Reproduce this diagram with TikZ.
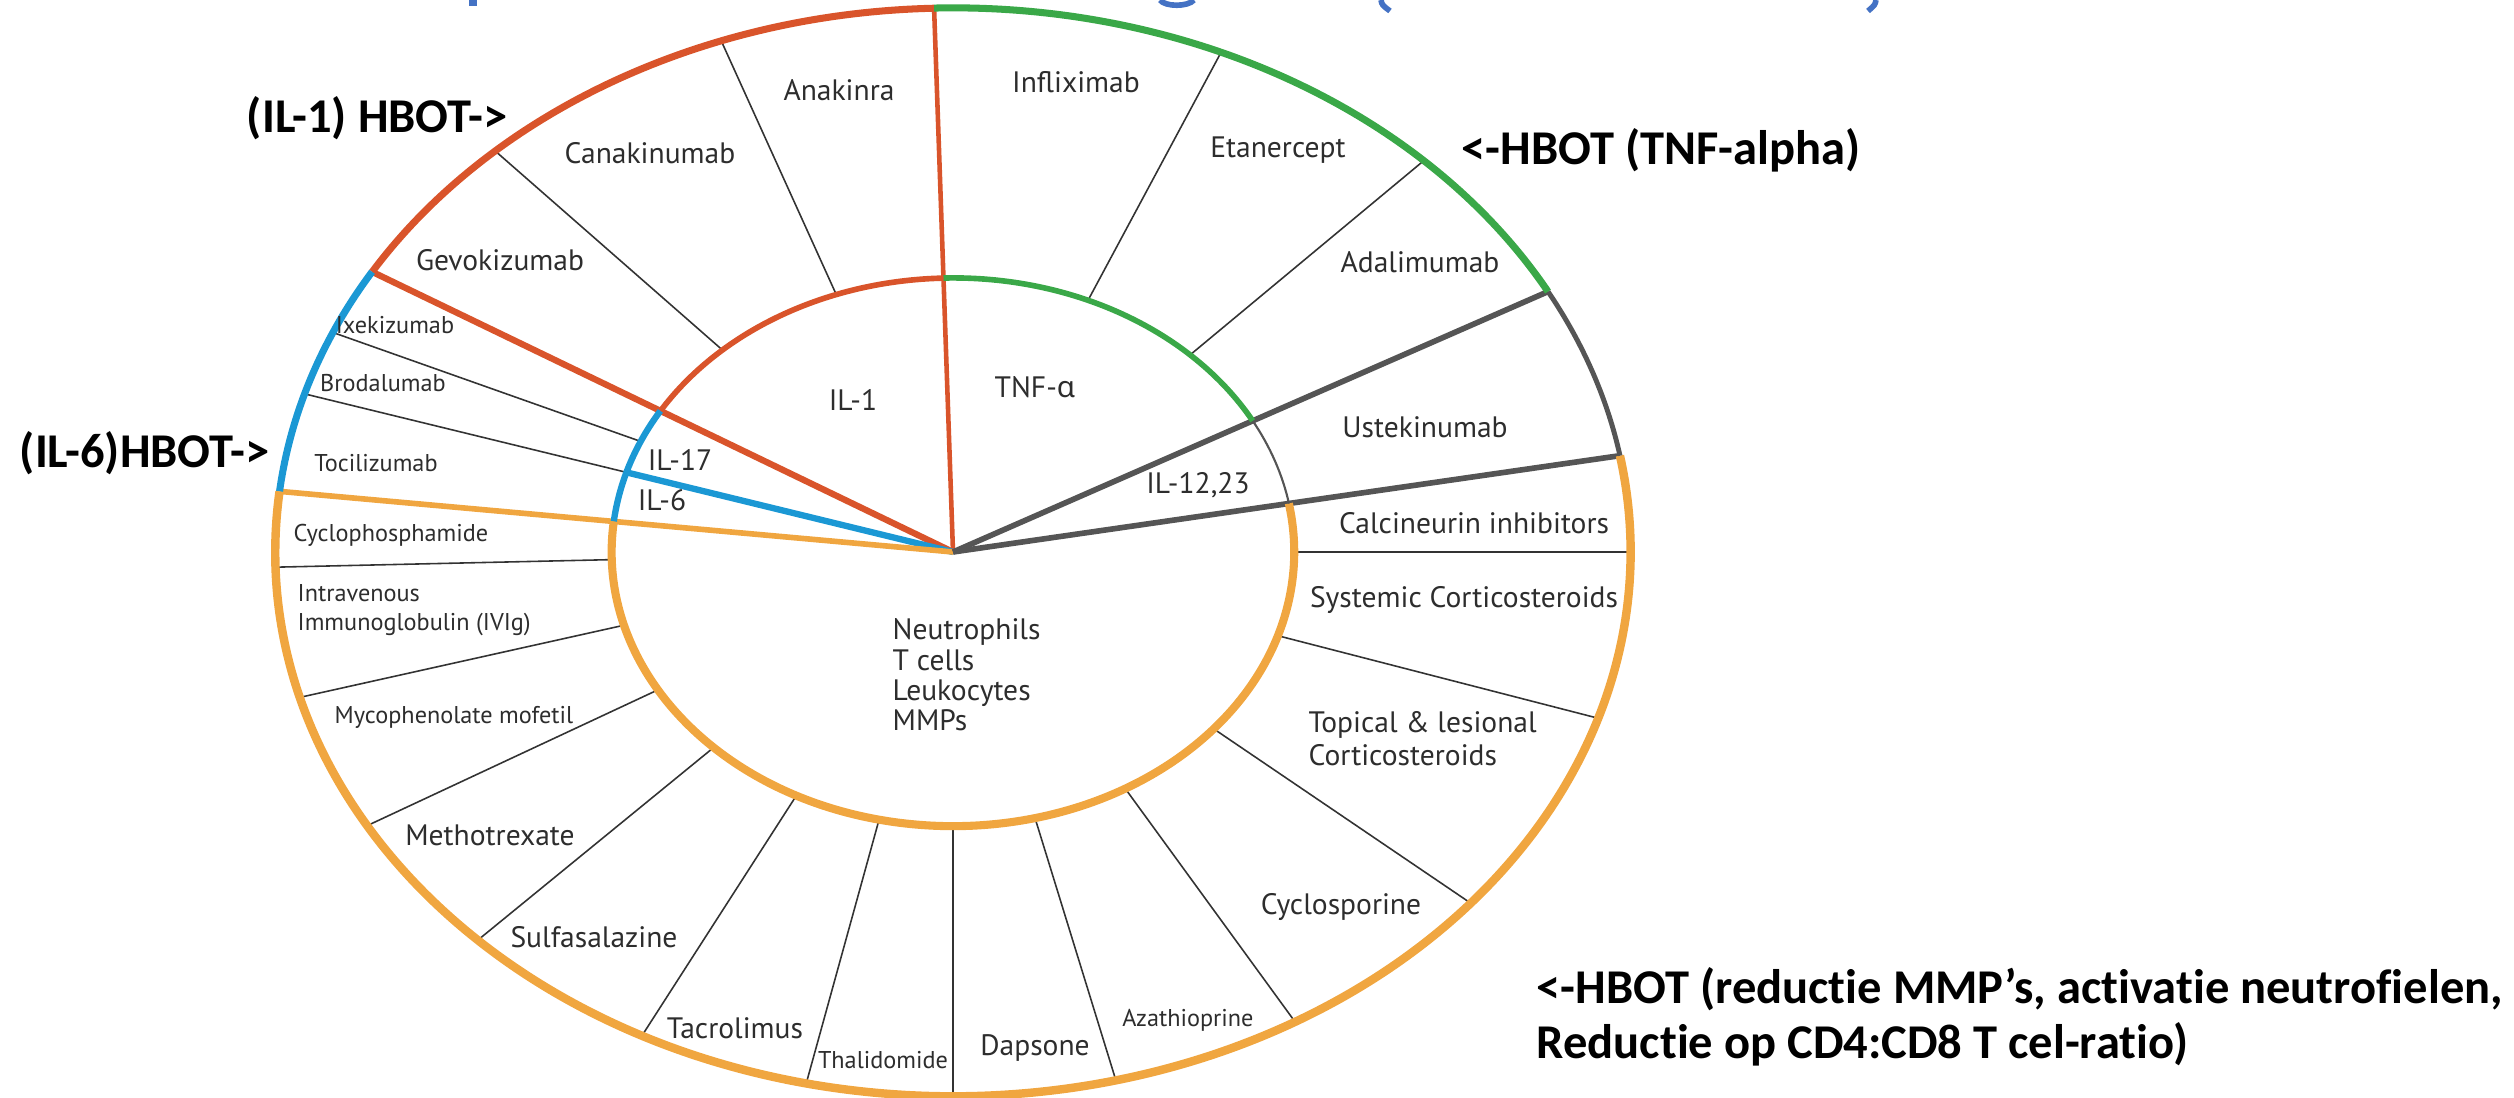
\documentclass[tikz,border=0pt]{standalone}
\usepackage{fontspec}
\setmainfont{PT Sans}
\newfontfamily\hbfont{Carlito}[Ligatures={NoCommon,NoRare,NoContextual}]
\newfontfamily\grfont{Noto Sans}
\definecolor{cred}{RGB}{217,84,43}
\definecolor{cgreen}{RGB}{58,168,72}
\definecolor{cblue}{RGB}{27,152,212}
\definecolor{corange}{RGB}{240,166,64}
\definecolor{cgray}{RGB}{85,85,85}
\definecolor{ctxt}{RGB}{45,45,45}
\definecolor{ctitle}{RGB}{68,114,196}
\begin{document}
\begin{tikzpicture}[x=0.01cm,y=-0.01cm,
 lab/.style={font=\fontsize{8.4}{9.4}\selectfont, text=ctxt, inner sep=0},
 slab/.style={font=\fontsize{6.9}{8.2}\selectfont, text=ctxt, inner sep=0},
 hb/.style={font=\hbfont\bfseries\fontsize{13.8}{15.6}\selectfont, inner sep=0, text=black},
 divider/.style={line width=0.45pt, draw=black!80},
 ringO/.style={x radius=6.773cm, y radius=5.44cm},
 ringI/.style={x radius=3.411cm, y radius=2.74cm},
]
\useasboundingbox (0,0) rectangle (2514,1098);
% title fragments (cut off at the top)
\fill[ctitle] (469,0) rectangle (477,6);
\draw[ctitle, line width=1.6pt] (1160,0) .. controls (1165,7) and (1188,7) .. (1194,0);
\draw[ctitle, line width=1.6pt] (1381,0) .. controls (1382,5) .. (1390,11);
\draw[ctitle, line width=1.6pt] (1876,0) .. controls (1875,5) .. (1868,11);

\coordinate (C) at (953,552);
\begin{scope}[shift={(C)}, x=0.01245cm, y=0.01cm]
 % thin dividers between inner and outer ring
 \foreach \a in {110,132.5,66.7,46,156.2,163.1,181.6,195.5,210.2,225.5,242.7,257.5,270,283.9,300.3,319.8,342.2,0}
   \draw[divider] (\a:274) -- (\a:544);
 % coloured spokes
 \draw[cred, line width=1.3pt] (0,0) -- (91.6:544);
 \draw[cred, line width=1.8pt] (0,0) -- (149:544);
 \draw[cblue, line width=1.8pt] (0,0) -- (163.1:274);
 \draw[corange, line width=1.6pt] (0,0) -- (173.6:544);
 \draw[cgray, line width=1.6pt] (0,0) -- (28.6:544);
 \draw[cgray, line width=1.6pt] (0,0) -- (10.2:544);
 % inner ring
 \draw[cred, line width=1.6pt] (91.6:274) arc[start angle=91.6, end angle=149, ringI];
 \draw[cblue, line width=1.8pt] (149:274) arc[start angle=149, end angle=173.6, ringI];
 \draw[corange, line width=2.3pt] (173.6:274) arc[start angle=173.6, end angle=370.2, ringI];
 \draw[cgray, line width=0.6pt] (10.2:274) arc[start angle=10.2, end angle=28.6, ringI];
 \draw[cgreen, line width=1.6pt] (28.6:274) arc[start angle=28.6, end angle=91.6, ringI];
 % outer ring
 \draw[cred, line width=2pt] (91.6:544) arc[start angle=91.6, end angle=149, ringO];
 \draw[cblue, line width=2pt] (149:544) arc[start angle=149, end angle=173.6, ringO];
 \draw[corange, line width=2.4pt] (173.6:544) arc[start angle=173.6, end angle=370.2, ringO];
 \draw[cgray, line width=1.4pt] (10.2:544) arc[start angle=10.2, end angle=28.6, ringO];
 \draw[cgreen, line width=2pt] (28.6:544) arc[start angle=28.6, end angle=91.6, ringO];
\end{scope}

% labels
\node[lab] (anak) at (839,90) {Anakinra};
\node[lab] (cana) at (650,153) {Canakinumab};
\node[lab] (gevo) at (500,260) {Gevokizumab};
\node[slab] (ixek) at (395,325) {Ixekizumab};
\node[slab] (brod) at (383,383) {Brodalumab};
\node[slab] (toci) at (376,463) {Tocilizumab};
\node[slab] (cycp) at (391,535) {Cyclophosphamide};
\node[slab, anchor=west, align=left] (ivig) at (297,610) {Intravenous\\Immunoglobulin (IVIg)};
\node[slab] (myco) at (454,717) {Mycophenolate mofetil};
\node[lab] (meth) at (490,835) {Methotrexate};
\node[lab] (sulf) at (594,937) {Sulfasalazine};
\node[lab] (tacr) at (735,1028) {Tacrolimus};
\node[slab] (thal) at (883,1060) {Thalidomide};
\node[lab] (daps) at (1035,1048) {Dapsone};
\node[slab] (azat) at (1188,1020) {Azathioprine};
\node[lab] (cycl) at (1341,907) {Cyclosporine};
\node[lab, anchor=west, align=left] (topi) at (1308,739) {Topical \& lesional\\Corticosteroids};
\node[lab] (syst) at (1464,600) {Systemic Corticosteroids};
\node[lab] (calc) at (1474,523) {Calcineurin inhibitors};
\node[lab] (uste) at (1425,427) {Ustekinumab};
\node[lab] (adal) at (1420,262) {Adalimumab};
\node[lab] (etan) at (1278,150) {Etanercept};
\node[lab] (infl) at (1076,82) {Infliximab};
\node[lab] (tnf) at (1035,387) {TNF-{\grfont α}};
\node[lab] (il1) at (853,400) {IL-1};
\node[lab] (il17) at (680,460) {IL-17};
\node[lab] (il6) at (662,500) {IL-6};
\node[lab] (il12) at (1198,485) {IL-12,23};
\node[lab, anchor=west, align=left, font=\fontsize{8.4}{8.6}\selectfont] (cells) at (892,675) {Neutrophils\\T cells\\Leukocytes\\MMPs};

% HBOT annotations
\node[hb, anchor=east] (h1) at (508,118) {(IL-1) HBOT->};
\node[hb, anchor=west] (htnf) at (1461,150) {<-HBOT (TNF-alpha)};
\node[hb, anchor=east] (h6) at (270,453) {(IL-6)HBOT->};
\node[hb, anchor=west, align=left] (hmmp) at (1536,1017) {<-HBOT (reductie MMP’s, activatie neutrofielen,\\Reductie op CD4:CD8 T cel-ratio)};
\end{tikzpicture}
\end{document}
